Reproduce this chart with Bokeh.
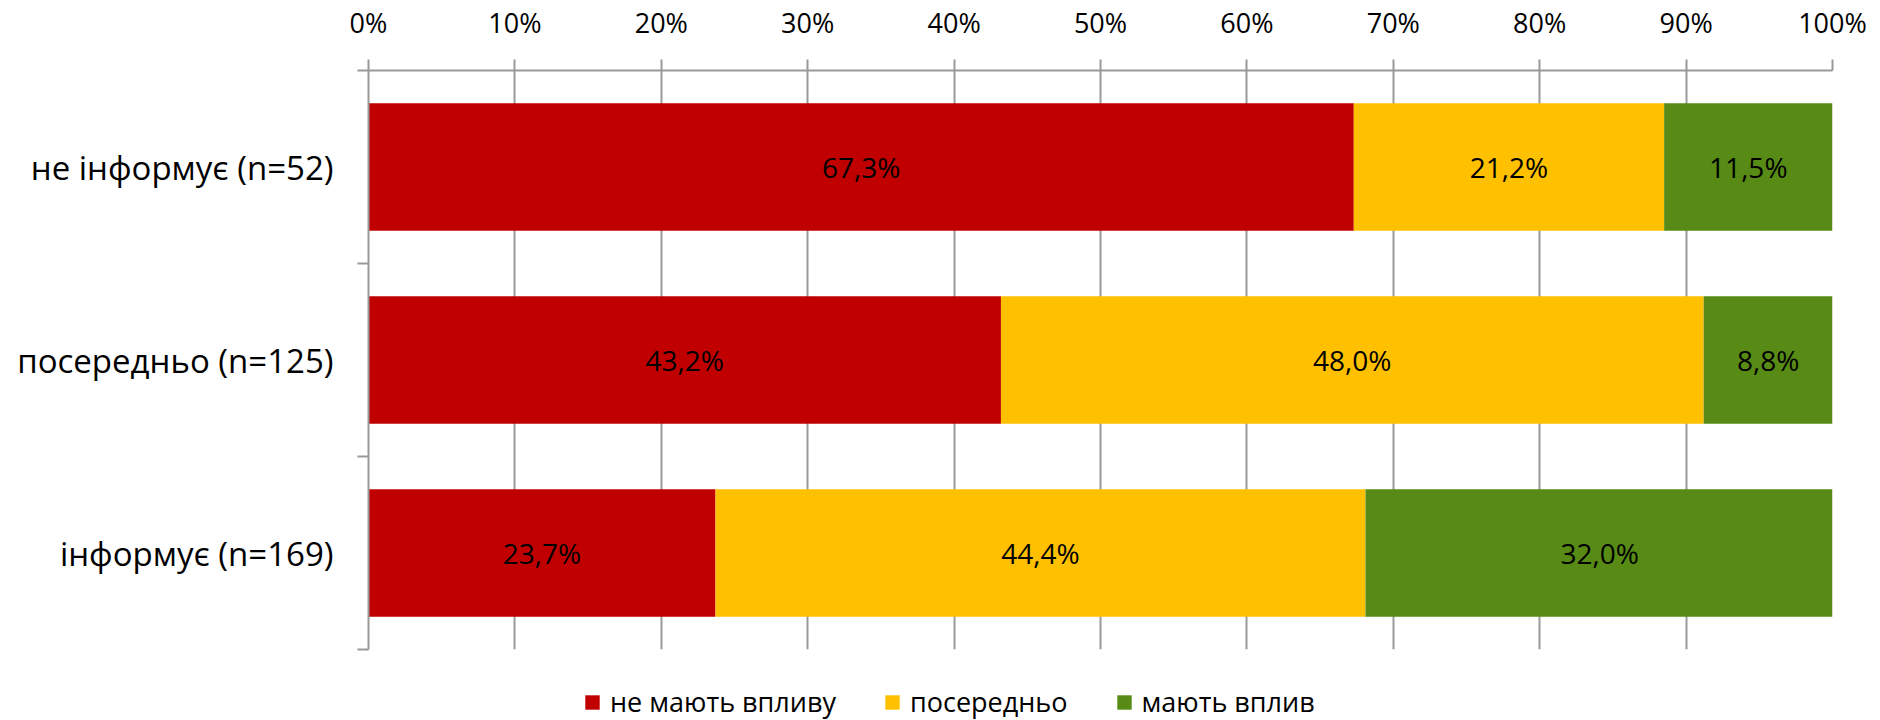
from bokeh.plotting import figure
from bokeh.layouts import column
from bokeh.models import (Range1d, FixedTicker, Legend, LegendItem, ColumnDataSource,
                          PrintfTickFormatter)
from bokeh.core.properties import value
from bokeh.embed import file_html
from bokeh.resources import INLINE

# ---- data ----
categories = ["не інформує (n=52)", "посередньо (n=125)", "інформує (n=169)"]
series_names = ["не мають впливу", "посередньо", "мають вплив"]
no_effect = [67.3, 43.2, 23.7]
medium = [21.2, 48.0, 44.4]
effect = [11.5, 8.8, 32.0]
x_ticks = [0, 10, 20, 30, 40, 50, 60, 70, 80, 90, 100]

colors = ["#C00000", "#FFC000", "#578B15"]
FONT = "Open Sans"
GRAY = "#999999"

n = len(categories)
ypos = [n - i - 0.5 for i in range(n)]  # top to bottom
src = ColumnDataSource(dict(y=ypos, **{
    series_names[0]: no_effect, series_names[1]: medium, series_names[2]: effect}))

p = figure(width=1880, height=672,
           x_range=Range1d(0, 100), y_range=Range1d(0, n),
           x_axis_location="above", y_axis_location="left",
           output_backend="svg", toolbar_location=None,
           min_border_left=368, min_border_right=48, min_border_top=70, min_border_bottom=23)
p.outline_line_color = None
p.background_fill_color = "white"
p.border_fill_color = "white"

p.hbar_stack(series_names, y="y", height=0.66, color=colors, line_color=None, source=src)

# data labels
lx, ly, lt = [], [], []
for i in range(n):
    start = 0.0
    for vals in (no_effect, medium, effect):
        v = vals[i]
        lx.append(start + v / 2)
        ly.append(ypos[i])
        lt.append(f"{v:.1f}".replace(".", ",") + "%")
        start += v
p.text(x="x", y="y", text="t", source=ColumnDataSource(dict(x=lx, y=ly, t=lt)),
       text_align="center", text_baseline="middle", text_color="black",
       text_font=value(FONT), text_font_size="28px")

# x axis (top)
xa = p.xaxis[0]
xa.ticker = FixedTicker(ticks=x_ticks)
xa.formatter = PrintfTickFormatter(format="%d%%")
xa.major_tick_out = 11
xa.major_tick_in = 0
xa.minor_tick_line_color = None
xa.axis_line_color = GRAY
xa.axis_line_width = 2
xa.major_tick_line_color = GRAY
xa.major_tick_line_width = 2
xa.major_label_text_font = FONT
xa.major_label_text_font_size = "27px"
xa.major_label_text_color = "black"
xa.major_label_standoff = 19

p.xgrid.ticker = FixedTicker(ticks=x_ticks)
p.xgrid.grid_line_color = GRAY
p.xgrid.grid_line_width = 2
p.ygrid.grid_line_color = None

# y axis: labels at category centres, minor ticks at boundaries
ya = p.yaxis[0]
ya.ticker = FixedTicker(ticks=ypos, minor_ticks=list(range(n + 1)))
ya.major_label_overrides = {y: c for y, c in zip(ypos, categories)}
ya.major_tick_line_color = None
ya.major_tick_out = 0
ya.major_tick_in = 0
ya.minor_tick_out = 11
ya.minor_tick_in = 0
ya.minor_tick_line_color = GRAY
ya.minor_tick_line_width = 2
ya.axis_line_color = GRAY
ya.axis_line_width = 2
ya.major_label_standoff = 24
ya.major_label_text_font = FONT
ya.major_label_text_font_size = "33px"
ya.major_label_text_color = "black"

# legend strip below the chart (its bars sit outside the visible range)
pl = figure(width=1880, height=48, x_range=Range1d(0, 100), y_range=Range1d(10, 11),
            output_backend="svg", toolbar_location=None,
            min_border_left=0, min_border_right=0, min_border_top=0, min_border_bottom=0)
pl.axis.visible = False
pl.grid.visible = False
pl.outline_line_color = None
lrs = pl.hbar_stack(series_names, y="y", height=0.66, color=colors, line_color=None, source=src)
legend = Legend(items=[LegendItem(label=s, renderers=[r]) for s, r in zip(series_names, lrs)],
                orientation="horizontal", location=(215, 0),
                glyph_width=18, glyph_height=18, label_standoff=9, spacing=47,
                padding=0, margin=0, border_line_color=None, background_fill_alpha=0,
                label_text_font=FONT, label_text_font_size="27px",
                label_text_color="black")
pl.add_layout(legend, "center")

layout = column(p, pl, spacing=0)
open("out.html", "w").write(file_html(layout, INLINE))
